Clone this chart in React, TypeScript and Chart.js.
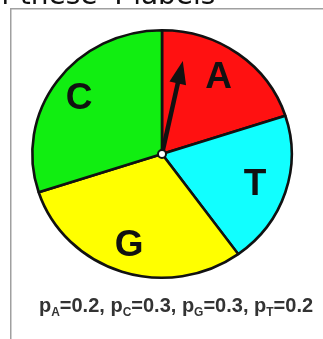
import React, { useEffect, useRef } from "react";
import { Chart, registerables } from "chart.js";

Chart.register(...registerables);

// Data
const labels = ["A", "T", "G", "C"];
const probs = [0.2, 0.2, 0.3, 0.3];
const colors = ["#ff1111", "#11ffff", "#ffff00", "#11ee11"];
const titleText = "f these 4 labels";

// spinner pointer (degrees clockwise from top, fraction of radius)
const ARROW_DEG = 12.6;
const ARROW_LEN = 0.77;
const STRETCH_X = 1.048;

const overlay = {
  id: "overlay",
  beforeDraw(chart: any) {
    const ctx = chart.ctx;
    ctx.save();
    ctx.fillStyle = "#ffffff";
    ctx.fillRect(0, 0, chart.width, chart.height);
    // frame
    ctx.strokeStyle = "#a0a0a0";
    ctx.lineWidth = 1.5;
    ctx.beginPath();
    ctx.moveTo(10.75, chart.height);
    ctx.lineTo(10.75, 8.75);
    ctx.lineTo(chart.width, 8.75);
    ctx.stroke();
    // cut-off title
    ctx.fillStyle = "#111";
    ctx.font = '28px "DejaVu Sans"';
    ctx.textAlign = "left";
    ctx.textBaseline = "alphabetic";
    ctx.fillText(titleText, 1, 4);
    ctx.restore();
  },
  beforeDatasetsDraw(chart: any) {
    const a = chart.getDatasetMeta(0).data[0];
    const ctx = chart.ctx;
    ctx.save();
    ctx.translate(a.x, a.y);
    ctx.scale(STRETCH_X, 1);
    ctx.translate(-a.x, -a.y);
  },
  afterDatasetsDraw(chart: any) {
    const ctx = chart.ctx;
    ctx.restore();
    const meta = chart.getDatasetMeta(0);
    // slice labels
    ctx.save();
    ctx.fillStyle = "#111";
    ctx.font = 'bold 37px "Liberation Sans"';
    ctx.textAlign = "center";
    ctx.textBaseline = "middle";
    meta.data.forEach((el: any, i: number) => {
      const p = el.getProps(["x", "y", "startAngle", "endAngle", "outerRadius"], true);
      const mid = (p.startAngle + p.endAngle) / 2;
      const r = p.outerRadius * 0.77;
      ctx.fillText(labels[i], p.x + Math.cos(mid) * r * STRETCH_X - 2, p.y + Math.sin(mid) * r + 1);
    });
    // arrow
    const p0 = meta.data[0].getProps(["x", "y", "outerRadius"], true);
    const ang = ((ARROW_DEG - 90) * Math.PI) / 180;
    const L = p0.outerRadius * ARROW_LEN;
    const tx = p0.x + Math.cos(ang) * L;
    const ty = p0.y + Math.sin(ang) * L;
    const headLen = 23;
    const headHalf = 8.5;
    const bx = tx - Math.cos(ang) * headLen;
    const by = ty - Math.sin(ang) * headLen;
    ctx.strokeStyle = "#111";
    ctx.lineWidth = 4.5;
    ctx.beginPath();
    ctx.moveTo(p0.x, p0.y);
    ctx.lineTo(bx + Math.cos(ang) * 4, by + Math.sin(ang) * 4);
    ctx.stroke();
    ctx.fillStyle = "#111";
    ctx.beginPath();
    ctx.moveTo(tx, ty);
    ctx.lineTo(bx - Math.sin(ang) * headHalf, by + Math.cos(ang) * headHalf);
    ctx.lineTo(bx + Math.sin(ang) * headHalf, by - Math.cos(ang) * headHalf);
    ctx.closePath();
    ctx.fill();
    // center pivot
    ctx.beginPath();
    ctx.arc(p0.x, p0.y, 4, 0, Math.PI * 2);
    ctx.fillStyle = "#ffffff";
    ctx.fill();
    ctx.lineWidth = 2;
    ctx.strokeStyle = "#111";
    ctx.stroke();
    ctx.restore();
  },
  afterDraw(chart: any) {
    const ctx = chart.ctx;
    ctx.save();
    const order = labels.map((l, i) => i).sort((a, b) => labels[a].localeCompare(labels[b]));
    const mainFont = 'bold 20px "Liberation Sans"';
    const subFont = 'bold 12px "Liberation Sans"';
    const parts: { t: string; sub: boolean }[] = [];
    order.forEach((idx, k) => {
      parts.push({ t: "p", sub: false });
      parts.push({ t: labels[idx], sub: true });
      parts.push({ t: "=" + probs[idx].toFixed(1) + (k < order.length - 1 ? ", " : ""), sub: false });
    });
    let total = 0;
    parts.forEach((p) => {
      ctx.font = p.sub ? subFont : mainFont;
      total += ctx.measureText(p.t).width;
    });
    let x = 176 - total / 2;
    const baseline = 312;
    ctx.fillStyle = "#333";
    ctx.textAlign = "left";
    ctx.textBaseline = "alphabetic";
    parts.forEach((p) => {
      ctx.font = p.sub ? subFont : mainFont;
      ctx.fillText(p.t, x, p.sub ? baseline + 4 : baseline);
      x += ctx.measureText(p.t).width;
    });
    ctx.restore();
  },
};

export default function App() {
  const ref = useRef<HTMLCanvasElement>(null);
  useEffect(() => {
    if (!ref.current) return;
    const chart = new Chart(ref.current, {
      type: "pie",
      data: {
        labels,
        datasets: [
          {
            data: probs,
            backgroundColor: colors,
            borderColor: "#111",
            borderWidth: 2.5,
          },
        ],
      },
      options: {
        animation: false,
        responsive: false,
        devicePixelRatio: 1,
        layout: { padding: { left: 37, right: 36, top: 29, bottom: 60 } },
        plugins: { legend: { display: false }, tooltip: { enabled: false } },
      },
      plugins: [overlay],
    });
    return () => chart.destroy();
  }, []);
  return (
    <div style={{ position: "fixed", left: 0, top: 0, width: 323, height: 339, background: "#fff", overflow: "hidden" }}>
      <canvas ref={ref} width={323} height={339} style={{ display: "block" }} />
    </div>
  );
}
